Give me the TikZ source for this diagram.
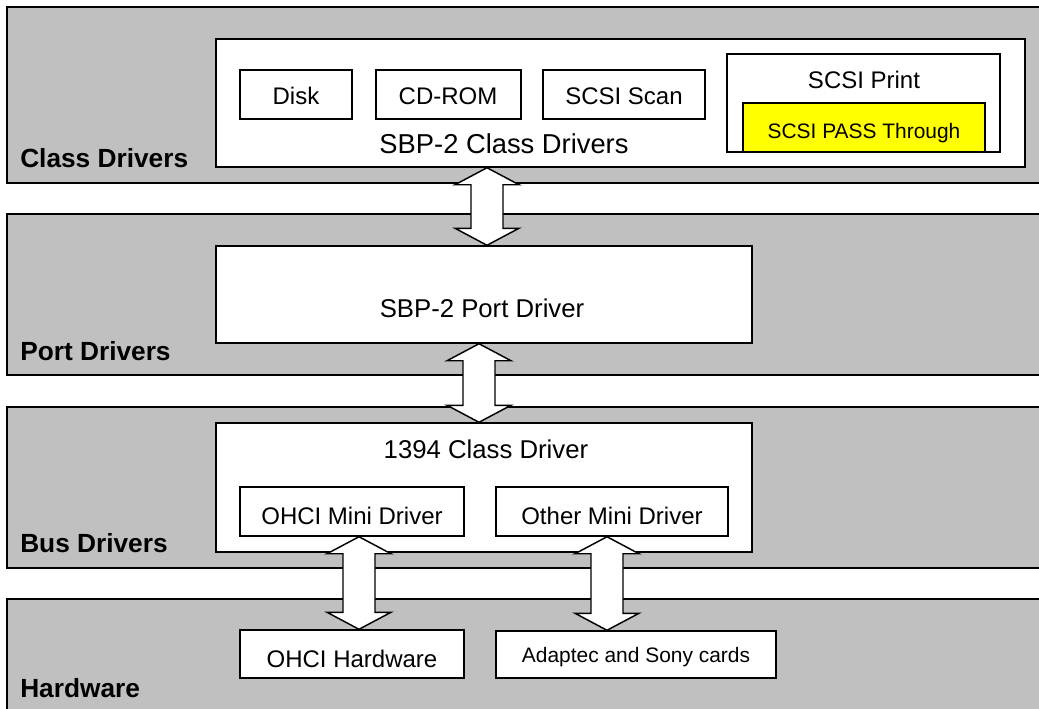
\documentclass[tikz,border=0pt]{standalone}
\usepackage{fontspec}
\setmainfont{Liberation Sans}
\usetikzlibrary{fit,calc}
\definecolor{bandgray}{RGB}{192,192,192}
\definecolor{passyellow}{RGB}{255,255,0}

\tikzset{
  band/.style={draw=black, fill=bandgray, line width=1.5pt, inner sep=0pt},
  box/.style={draw=black, fill=white, line width=1.1pt, inner sep=0pt},
  hibox/.style={box, fill=passyellow},
  layer/.style={font=\fontsize{19.7}{23}\selectfont\bfseries, anchor=base west, inner sep=0pt},
  bigtext/.style={font=\fontsize{19.3}{22}\selectfont, anchor=base, inner sep=0pt},
  midtext/.style={font=\fontsize{18}{21}\selectfont, anchor=base, inner sep=0pt},
  smalltext/.style={font=\fontsize{15.7}{19}\selectfont, anchor=base, inner sep=0pt},
  blockarrow/.style={draw=black, fill=white, line width=1.1pt, line join=miter},
}

% hollow two-headed block arrow between two named points (top tip, bottom tip)
\newcommand\dualarrow[2]{%
  \draw[blockarrow] (#1) -- ++(32,17) -- ++(-16,0) -- ($(#2)+(16,-17)$)
    -- ++(16,0) -- (#2) -- ++(-32,-17) -- ++(16,0) -- ($(#1)+(-16,17)$)
    -- ++(-16,0) -- cycle;}

\begin{document}
\begin{tikzpicture}[x=0.75pt, y=-0.75pt]
\useasboundingbox (0,0) rectangle (1039,708);

% layer bands (they run on past the right edge of the page)
\node[band, fit={(7,7) (1100,183)}] (classband) {};
\node[band, fit={(7,214) (1100,375)}] (portband) {};
\node[band, fit={(7,407) (1100,568)}] (busband) {};
\node[band, fit={(7,599) (1100,740)}] (hwband) {};

\node[layer] (classlbl) at (20,167) {Class Drivers};
\node[layer] (portlbl) at (20,360) {Port Drivers};
\node[layer] (buslbl) at (20,552) {Bus Drivers};
\node[layer] (hwlbl) at (20,697) {Hardware};

% class drivers
\node[box, fit={(216,39) (1025,167)}] (classbox) {};
\node[box, fit={(240,70) (352,119)}] (disk) {};
\node[box, fit={(376,70) (521,119)}] (cdrom) {};
\node[box, fit={(543,70) (705,119)}] (scan) {};
\node[box, fit={(727,54) (1000,152)}] (print) {};
\node[hibox, fit={(743,103) (985,152)}] (pass) {};
\node[midtext] (disktxt) at (296,104) {Disk};
\node[midtext] (cdromtxt) at (448,104) {CD-ROM};
\node[midtext] (scantxt) at (624,104) {SCSI Scan};
\node[midtext] (printtxt) at (864,88) {SCSI Print};
\node[smalltext] (passtxt) at (864,138) {SCSI PASS Through};
\node[bigtext, font=\fontsize{20.5}{24}\selectfont] (classtxt) at (504,153) {SBP-2 Class Drivers};

% port driver
\node[box, fit={(216,246) (752,343)}] (portbox) {};
\node[bigtext] (porttxt) at (482,317) {SBP-2 Port Driver};

% bus drivers
\node[box, fit={(216,423) (752,552)}] (busbox) {};
\node[bigtext] (bustxt) at (486,458) {1394 Class Driver};
\node[box, fit={(240,487) (464,536)}] (ohcimini) {};
\node[box, fit={(496,487) (728,536)}] (othermini) {};
\node[midtext] (ohciminitxt) at (352,524) {OHCI Mini Driver};
\node[midtext] (otherminitxt) at (612,524) {Other Mini Driver};

% hardware
\node[box, fit={(240,630) (464,678)}] (ohcihw) {};
\node[box, fit={(496,631) (776,678)}] (cards) {};
\node[midtext] (ohcihwtxt) at (352,667) {OHCI Hardware};
\node[smalltext] (cardstxt) at (636,662) {Adaptec and Sony cards};

% arrow columns
\coordinate (colA) at (487,0);
\coordinate (colB) at (479,0);
\coordinate (colC) at (359,0);
\coordinate (colD) at (607,0);

\coordinate (a1top) at (classbox.south -| colA);
\coordinate (a1bot) at (portbox.north -| colA);
\coordinate (a2top) at (portbox.south -| colB);
\coordinate (a2bot) at (busbox.north -| colB);
\coordinate (a3top) at (ohcimini.south -| colC);
\coordinate (a3bot) at (ohcihw.north -| colC);
\coordinate (a4top) at (othermini.south -| colD);
\coordinate (a4bot) at (cards.north -| colD);

\dualarrow{a1top}{a1bot}
\dualarrow{a2top}{a2bot}
\dualarrow{a3top}{a3bot}
\dualarrow{a4top}{a4bot}
\end{tikzpicture}
\end{document}
